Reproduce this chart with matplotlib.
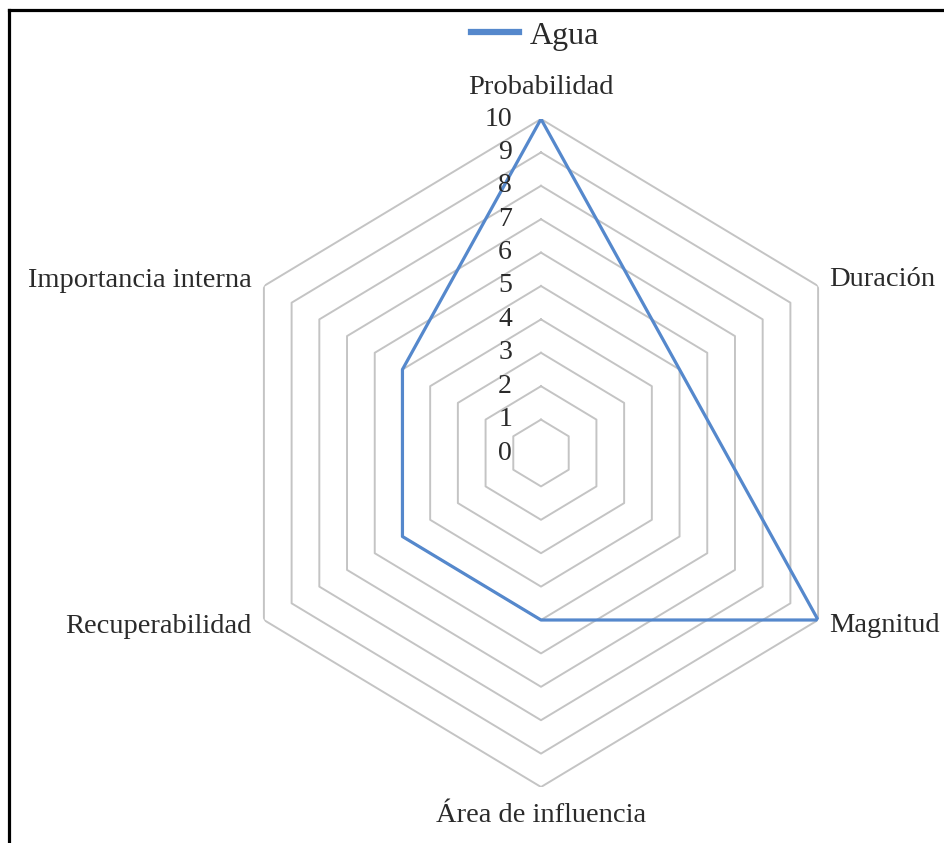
import numpy as np
import matplotlib.pyplot as plt
from matplotlib.lines import Line2D

plt.rcParams['font.family'] = ['Liberation Serif', 'DejaVu Serif']

categories = ['Probabilidad', 'Duración', 'Magnitud', 'Área de influencia',
              'Recuperabilidad', 'Importancia interna']
agua = [10, 5, 10, 5, 5, 5]
levels = list(range(0, 11))
series_name = 'Agua'

W, H = 945, 843
fig = plt.figure(figsize=(W / 100, H / 100), dpi=100)

# chart centre (541, 453) px from top-left, radius 334 px, horizontally squeezed
cx, cy, R, sx = 541, 453, 334, 0.958
ax = fig.add_axes([(cx - R * sx) / W, (H - cy - R) / H, 2 * R * sx / W, 2 * R / H],
                  projection='polar')
ax.set_aspect('auto')
ax.set_theta_zero_location('N')
ax.set_theta_direction(-1)
ax.set_ylim(0, 10)
ax.grid(False)
ax.spines['polar'].set_visible(False)
ax.set_xticks([])
ax.set_yticks([])
ax.patch.set_alpha(0)

theta = np.linspace(0, 2 * np.pi, len(categories), endpoint=False)
theta_c = np.append(theta, theta[0])

for lv in levels[1:]:
    ax.plot(theta_c, [lv] * len(theta_c), color='#c4c4c4', lw=1.4, zorder=1)

vals = agua + agua[:1]
line, = ax.plot(theta_c, vals, color='#5588cc', lw=2.3, zorder=3, label=series_name)

txt = '#2a2a2a'
for lv in levels:
    ax.annotate(str(lv), xy=(0, lv), xytext=(-29, 0), textcoords='offset pixels',
                ha='right', va='center', fontsize=20, color=txt)

offsets = [(0, 31, 'center'), (11, 6, 'left'), (11, -6, 'left'),
           (0, -29, 'center'), (-12, -6, 'right'), (-12, 6, 'right')]
for t, lab, (dx, dy, ha) in zip(theta, categories, offsets):
    ax.annotate(lab, xy=(t, 10), xytext=(dx, dy), textcoords='offset pixels',
                ha=ha, va='center', fontsize=20.5, color=txt)

leg = fig.legend(handles=[line], loc='center', bbox_to_anchor=(535 / W, 1 - 36 / H),
                 frameon=False, fontsize=23, handlelength=1.5, handletextpad=0.35,
                 borderpad=0, labelcolor=txt)
leg.legend_handles[0].set_linewidth(4.5)

# frame lines on top and left edge
fig.add_artist(Line2D([9 / W, 1], [1 - 10 / H, 1 - 10 / H], transform=fig.transFigure,
                      color='black', lw=2.3))
fig.add_artist(Line2D([9 / W, 9 / W], [0, 1 - 10 / H], transform=fig.transFigure,
                      color='black', lw=2.3))

fig.savefig('out.png', dpi=100)
